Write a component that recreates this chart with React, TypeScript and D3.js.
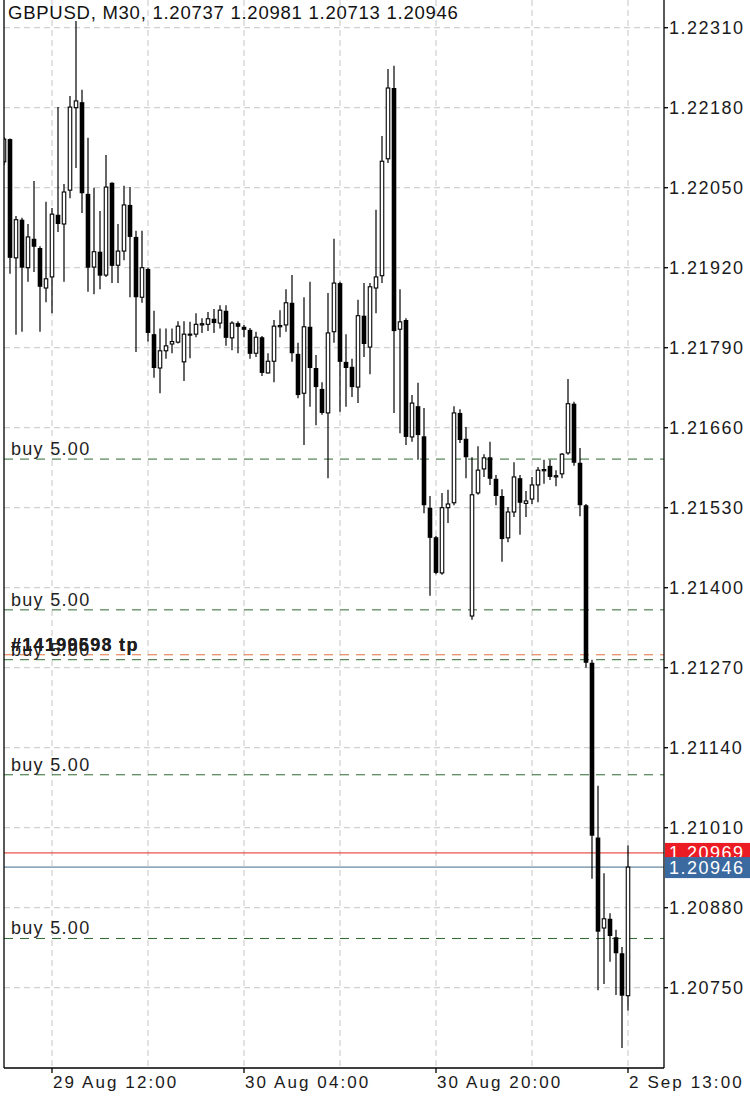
import React from "react";
import * as d3 from "d3";

// ---- Data (GBPUSD M30) ----
const opens = [
  1.22092, 1.22129, 1.21936, 1.21998, 1.21920, 1.21967, 1.21952, 1.21887, 1.21905, 1.22006,
  1.21991, 1.22046, 1.22180, 1.22189, 1.22040, 1.21921, 1.21946, 1.21908, 1.22058, 1.21924,
  1.21947, 1.22022, 1.21970, 1.21872, 1.21918, 1.21812, 1.21757, 1.21785, 1.21796, 1.21799,
  1.21767, 1.21811, 1.21812, 1.21827, 1.21828, 1.21837, 1.21830, 1.21850, 1.21806, 1.21830,
  1.21824, 1.21819, 1.21781, 1.21807, 1.21749, 1.21768, 1.21824, 1.21827, 1.21863, 1.21780,
  1.21716, 1.21824, 1.21757, 1.21723, 1.21684, 1.21816, 1.21895, 1.21767, 1.21759, 1.21726,
  1.21842, 1.21791, 1.21887, 1.21907, 1.22097, 1.22212, 1.21820, 1.21835, 1.21645, 1.21695,
  1.21646, 1.21530, 1.21482, 1.21424, 1.21530, 1.21538, 1.21684, 1.21642, 1.21354, 1.21554,
  1.21593, 1.21612, 1.21577, 1.21549, 1.21481, 1.21523, 1.21578, 1.21537, 1.21544, 1.21567,
  1.21590, 1.21598, 1.21580, 1.21585, 1.21619, 1.21699, 1.21603, 1.21534, 1.21278, 1.20994,
  1.20847, 1.20862, 1.20832, 1.20806, 1.20737,
];
const highs = [
  1.22132, 1.22130, 1.22004, 1.22001, 1.21991, 1.22061, 1.21955, 1.22027, 1.22017, 1.22181,
  1.22056, 1.22199, 1.22321, 1.22209, 1.22131, 1.22050, 1.22012, 1.22103, 1.22059, 1.21991,
  1.22053, 1.22051, 1.21980, 1.21980, 1.21920, 1.21850, 1.21821, 1.21821, 1.21821, 1.21833,
  1.21833, 1.21832, 1.21846, 1.21838, 1.21848, 1.21853, 1.21859, 1.21859, 1.21833, 1.21833,
  1.21827, 1.21822, 1.21816, 1.21809, 1.21781, 1.21835, 1.21851, 1.21885, 1.21908, 1.21798,
  1.21872, 1.21897, 1.21778, 1.21734, 1.21879, 1.21967, 1.21897, 1.21812, 1.21772, 1.21868,
  1.21895, 1.21895, 1.22014, 1.22134, 1.22243, 1.22248, 1.21885, 1.21838, 1.21713, 1.21733,
  1.21692, 1.21549, 1.21484, 1.21554, 1.21559, 1.21695, 1.21690, 1.21661, 1.21612, 1.21630,
  1.21617, 1.21637, 1.21583, 1.21560, 1.21531, 1.21604, 1.21583, 1.21557, 1.21580, 1.21596,
  1.21608, 1.21608, 1.21591, 1.21619, 1.21739, 1.21702, 1.21627, 1.21536, 1.21283, 1.21078,
  1.20936, 1.20871, 1.20844, 1.20816, 1.20981,
];
const lows = [
  1.22087, 1.21910, 1.21811, 1.21816, 1.21897, 1.21913, 1.21816, 1.21864, 1.21846, 1.21978,
  1.21897, 1.22033, 1.22082, 1.22009, 1.21881, 1.21877, 1.21885, 1.21905, 1.21895, 1.21895,
  1.21932, 1.21872, 1.21783, 1.21863, 1.21800, 1.21741, 1.21716, 1.21772, 1.21781, 1.21797,
  1.21736, 1.21773, 1.21807, 1.21814, 1.21817, 1.21814, 1.21821, 1.21793, 1.21786, 1.21781,
  1.21807, 1.21772, 1.21775, 1.21744, 1.21748, 1.21734, 1.21807, 1.21816, 1.21767, 1.21708,
  1.21632, 1.21694, 1.21664, 1.21681, 1.21578, 1.21798, 1.21686, 1.21694, 1.21710, 1.21700,
  1.21775, 1.21747, 1.21846, 1.21895, 1.22090, 1.21684, 1.21651, 1.21632, 1.21637, 1.21608,
  1.21521, 1.21387, 1.21422, 1.21421, 1.21505, 1.21534, 1.21635, 1.21578, 1.21348, 1.21551,
  1.21580, 1.21567, 1.21534, 1.21442, 1.21474, 1.21515, 1.21486, 1.21515, 1.21536, 1.21539,
  1.21569, 1.21575, 1.21565, 1.21578, 1.21616, 1.21598, 1.21516, 1.21270, 1.20927, 1.20746,
  1.20756, 1.20792, 1.20738, 1.20652, 1.20713,
];
const closes = [
  1.22129, 1.21936, 1.21998, 1.21920, 1.21970, 1.21954, 1.21889, 1.21902, 1.22007, 1.21991,
  1.22043, 1.22181, 1.22191, 1.22041, 1.21920, 1.21946, 1.21907, 1.22051, 1.21923, 1.21947,
  1.22022, 1.21970, 1.21872, 1.21920, 1.21814, 1.21757, 1.21785, 1.21793, 1.21800, 1.21825,
  1.21812, 1.21812, 1.21828, 1.21829, 1.21837, 1.21830, 1.21851, 1.21806, 1.21830, 1.21824,
  1.21819, 1.21780, 1.21807, 1.21749, 1.21768, 1.21825, 1.21826, 1.21863, 1.21781, 1.21713,
  1.21824, 1.21757, 1.21726, 1.21684, 1.21814, 1.21895, 1.21767, 1.21757, 1.21726, 1.21842,
  1.21796, 1.21889, 1.21905, 1.22093, 1.22212, 1.21817, 1.21832, 1.21645, 1.21700, 1.21648,
  1.21534, 1.21481, 1.21424, 1.21530, 1.21536, 1.21684, 1.21640, 1.21612, 1.21551, 1.21591,
  1.21611, 1.21577, 1.21549, 1.21479, 1.21523, 1.21580, 1.21538, 1.21541, 1.21567, 1.21591,
  1.21592, 1.21580, 1.21582, 1.21617, 1.21699, 1.21603, 1.21534, 1.21278, 1.20997, 1.20841,
  1.20862, 1.20834, 1.20806, 1.20737, 1.20946,
];

const priceTicks = [
  1.2231, 1.2218, 1.2205, 1.2192, 1.2179, 1.2166, 1.2153, 1.214, 1.2127, 1.2114, 1.2101, 1.2088, 1.2075,
];
const gridBarIdx = [8, 24, 40, 56, 72, 88, 104];
const timeLabelIdx = [8, 40, 72, 104];
const timeLabelText = ["29 Aug 12:00", "30 Aug 04:00", "30 Aug 20:00", "2 Sep 13:00"];

const buyLevels = [1.21609, 1.21364, 1.21283, 1.21096, 1.2083];
const tpLevel = 1.21291;
const tpTexts = ["#14199598 tp", "#14190693 tp"];
const askPrice = 1.20969;
const bidPrice = 1.20946;
const title = "GBPUSD, M30, 1.20737 1.20981 1.20713 1.20946";

const FONT = "'Liberation Sans', Arial, Helvetica, sans-serif";

export default function App() {
  const W = 750;
  const H = 1098;
  const plotL = 4;
  const plotR = 664;
  const plotT = 0;
  const plotB = 1068;

  const x = d3.scaleLinear().domain([0, 104]).range([4, 628]);
  const y = d3.scaleLinear().domain([1.20619512, 1.22355013]).range([plotB, plotT]);

  const bodyW = 4.6;
  const fmt = d3.format(".5f");

  return (
    <svg
      width={W}
      height={H}
      viewBox={`0 0 ${W} ${H}`}
      style={{ position: "absolute", left: 0, top: 0, background: "#fff" }}
    >
      <defs>
        <clipPath id="plotClip">
          <rect x={plotL} y={plotT} width={plotR - plotL} height={plotB - plotT} />
        </clipPath>
      </defs>
      <rect x={0} y={0} width={W} height={H} fill="#fff" />

      {/* grid */}
      <g stroke="#c6c6c6" strokeWidth={1} strokeDasharray="6 4">
        {priceTicks.map((p, i) => (
          <line key={"h" + i} x1={plotL} x2={plotR} y1={y(p)} y2={y(p)} />
        ))}
        {gridBarIdx.map((b, i) => (
          <line key={"v" + i} x1={x(b)} x2={x(b)} y1={plotT} y2={plotB} />
        ))}
      </g>

      {/* order lines */}
      <g clipPath="url(#plotClip)">
        <line x1={plotL} x2={plotR} y1={y(tpLevel)} y2={y(tpLevel)} stroke="#e2723c" strokeWidth={1} strokeDasharray="9 7" />
        {buyLevels.map((p, i) => (
          <line key={"b" + i} x1={plotL} x2={plotR} y1={y(p)} y2={y(p)} stroke="#2f6a2f" strokeWidth={1} strokeDasharray="9 7" />
        ))}
        <line x1={plotL} x2={plotR} y1={y(askPrice)} y2={y(askPrice)} stroke="#e3281f" strokeWidth={1} />
        <line x1={plotL} x2={plotR} y1={y(bidPrice)} y2={y(bidPrice)} stroke="#41698c" strokeWidth={1} />
      </g>

      {/* candles */}
      <g clipPath="url(#plotClip)">
        {opens.map((o, i) => {
          const c = closes[i];
          const h = highs[i];
          const l = lows[i];
          const cx = x(i);
          const up = c >= o;
          const top = y(Math.max(o, c));
          const bot = y(Math.min(o, c));
          const bh = Math.max(1, bot - top);
          return (
            <g key={i}>
              <line x1={cx} x2={cx} y1={y(h)} y2={y(l)} stroke="#000" strokeWidth={1.2} />
              {up ? (
                <rect x={cx - bodyW / 2 + 0.55} y={top} width={bodyW - 1.1} height={Math.max(0.5, bh)} fill="#fff" stroke="#000" strokeWidth={1.1} />
              ) : (
                <rect x={cx - bodyW / 2} y={top} width={bodyW} height={bh} fill="#000" />
              )}
            </g>
          );
        })}
      </g>

      {/* order labels */}
      <g fontFamily={FONT} fill="#1e1e1e">
        {buyLevels.map((p, i) => (
          <text key={"bl" + i} x={11} y={y(p) - 4} fontSize={18} letterSpacing={1.3}>
            buy 5.00
          </text>
        ))}
        {tpTexts.map((t, i) => (
          <text key={"tp" + i} x={11} y={y(tpLevel) - 4} fontSize={18} fontWeight="bold" letterSpacing={1.3}>
            {t}
          </text>
        ))}
      </g>

      {/* frame */}
      <g stroke="#000" strokeWidth={1.3}>
        <line x1={plotL} x2={plotL} y1={plotT} y2={plotB} />
        <line x1={plotR} x2={plotR} y1={plotT} y2={plotB} />
        <line x1={plotL} x2={plotR} y1={plotB} y2={plotB} />
        {priceTicks.map((p, i) => (
          <line key={"pt" + i} x1={plotR} x2={plotR + 4} y1={y(p)} y2={y(p)} />
        ))}
        {timeLabelIdx.map((b, i) => (
          <line key={"tt" + i} x1={x(b)} x2={x(b)} y1={plotB} y2={plotB + 5} />
        ))}
      </g>

      {/* price axis labels */}
      <g fontFamily={FONT} fontSize={18} fill="#1a1a1a" letterSpacing={1.5}>
        {priceTicks.map((p, i) => (
          <text key={"pl" + i} x={669} y={y(p) + 6.5}>
            {fmt(p)}
          </text>
        ))}
      </g>

      {/* ask / bid boxes */}
      <g fontFamily={FONT} fontSize={18} letterSpacing={1.5}>
        <rect x={665} y={y(askPrice) - 10} width={W - 665} height={20} fill="#ec1c24" />
        <text x={669} y={y(askPrice) + 6.5} fill="#fff">
          {fmt(askPrice)}
        </text>
        <rect x={665} y={y(bidPrice) - 10} width={W - 665} height={21} fill="#3b6aa0" />
        <text x={669} y={y(bidPrice) + 6.5} fill="#fff">
          {fmt(bidPrice)}
        </text>
      </g>

      {/* time axis labels */}
      <g fontFamily={FONT} fontSize={17} fill="#1a1a1a" letterSpacing={2.1}>
        {timeLabelIdx.map((b, i) => (
          <text key={"xl" + i} x={x(b) + 1} y={1088}>
            {timeLabelText[i]}
          </text>
        ))}
      </g>

      {/* title */}
      <text x={8} y={18.5} fontFamily={FONT} fontSize={18.5} letterSpacing={0.75} fill="#111">
        {title}
      </text>
    </svg>
  );
}
